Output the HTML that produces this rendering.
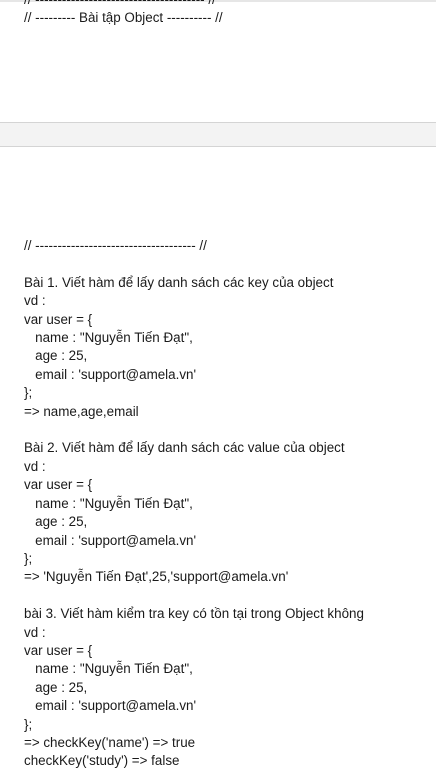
<!DOCTYPE html>
<html><head><meta charset="utf-8"><style>
html,body{margin:0;padding:0;background:#fff;width:436px;height:777px;overflow:hidden;position:relative}
.t{position:absolute;left:24px;font-family:"Liberation Sans","DejaVu Sans",sans-serif;font-size:13.4px;color:#1a1a1a;white-space:pre;line-height:18.4px}
.band{position:absolute;left:0;width:436px;top:122px;height:23px;background:#f3f3f3;border-top:1px solid #d4d4d4;border-bottom:1px solid #d4d4d4}
.topedge{position:absolute;left:0;top:0;width:436px;height:2px;background:#e6e6e6}
</style></head><body>
<div class="topedge"></div>
<div class="t" style="top:-9px">// -------------------------------------- //
// --------- Bài tập Object ---------- //</div>
<div class="band"></div>
<div class="t" style="top:237px">// ------------------------------------ //

Bài 1. Viết hàm để lấy danh sách các key của object
vd :
var user = {
   name : "Nguyễn Tiến Đạt",
   age : 25,
   email : 'support@amela.vn'
};
=> name,age,email

Bài 2. Viết hàm để lấy danh sách các value của object
vd :
var user = {
   name : "Nguyễn Tiến Đạt",
   age : 25,
   email : 'support@amela.vn'
};
=> 'Nguyễn Tiến Đạt',25,'support@amela.vn'

bài 3. Viết hàm kiểm tra key có tồn tại trong Object không
vd :
var user = {
   name : "Nguyễn Tiến Đạt",
   age : 25,
   email : 'support@amela.vn'
};
=> checkKey('name') => true
checkKey('study') => false</div>
</body></html>
